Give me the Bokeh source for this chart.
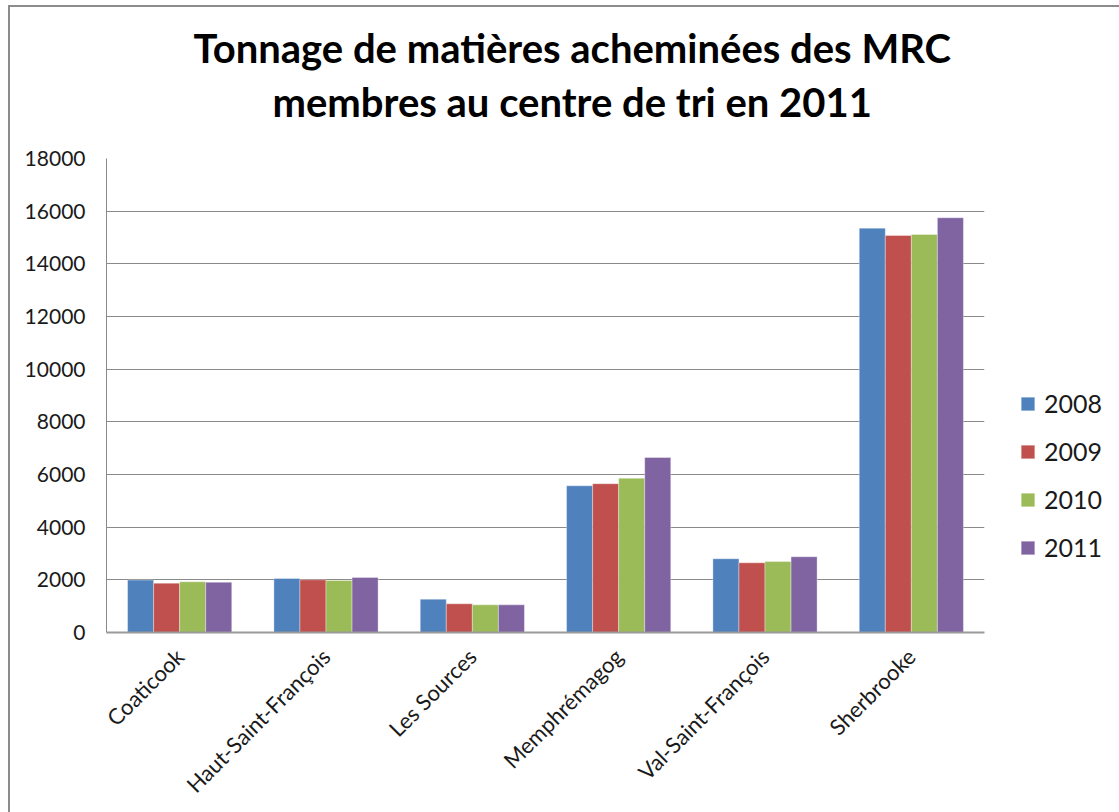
import math
from bokeh.plotting import figure
from bokeh.models import ColumnDataSource, Legend, LegendItem, Title, FactorRange
from bokeh.transform import dodge
from bokeh.embed import file_html
from bokeh.resources import INLINE

mrc = ["Coaticook", "Haut-Saint-François", "Les Sources", "Memphrémagog",
       "Val-Saint-François", "Sherbrooke"]
years = ["2008", "2009", "2010", "2011"]
v2008 = [1990, 2050, 1265, 5570, 2800, 15355]
v2009 = [1875, 2000, 1090, 5650, 2645, 15075]
v2010 = [1925, 1975, 1050, 5860, 2695, 15115]
v2011 = [1910, 2090, 1050, 6645, 2875, 15750]
colors = ["#4F81BD", "#C0504D", "#9BBB59", "#8064A2"]
y_ticks = [0, 2000, 4000, 6000, 8000, 10000, 12000, 14000, 16000, 18000]
title_lines = ["Tonnage de matières acheminées des MRC",
               "membres au centre de tri en 2011"]

src = ColumnDataSource(dict(mrc=mrc, v2008=v2008, v2009=v2009, v2010=v2010, v2011=v2011))

W, H = 1109, 805
FL, FR, FT, FB = 96, 974, 151, 625
p = figure(x_range=FactorRange(*mrc, range_padding=0), y_range=(0, 18000),
           frame_width=FR - FL, frame_height=FB - FT,
           output_backend="svg", toolbar_location=None,
           min_border_left=FL, min_border_right=W - FR,
           min_border_top=FT, min_border_bottom=H - FB)
p.styles = {"margin-left": "8px", "margin-top": "5px",
            "border-left": "2px solid #8c8c8c", "border-top": "2px solid #8c8c8c"}
p.outline_line_color = None
p.background_fill_color = "white"
p.border_fill_color = "white"

bw = 0.178
offs = [-1.5 * bw, -0.5 * bw, 0.5 * bw, 1.5 * bw]
items = []
for yr, col, off in zip(years, colors, offs):
    r = p.vbar(x=dodge("mrc", off, range=p.x_range), top="v" + yr, width=bw,
               source=src, fill_color=col, line_color="white", line_alpha=0.35, line_width=1)
    items.append(LegendItem(label=yr, renderers=[r]))

p.xgrid.grid_line_color = None
p.ygrid.grid_line_color = "#8a8a8a"
p.ygrid.grid_line_width = 1
p.yaxis.ticker = y_ticks
p.yaxis.axis_line_color = "#8a8a8a"
p.yaxis.major_tick_line_color = None
p.yaxis.minor_tick_line_color = None
p.yaxis.major_label_text_font = "Lato"
p.yaxis.major_label_text_font_size = "21px"
p.yaxis.major_label_text_color = "#1a1a1a"
p.yaxis.major_label_standoff = 15

p.xaxis.axis_line_color = "#9a9a9a"
p.xaxis.axis_line_width = 2
p.xaxis.major_tick_line_color = None
p.xaxis.minor_tick_line_color = None
p.xaxis.major_label_orientation = math.pi / 4
p.xaxis.major_label_text_font = "Lato"
p.xaxis.major_label_text_font_size = "22px"
p.xaxis.major_label_text_color = "#1a1a1a"
p.xaxis.major_label_standoff = 14

legend = Legend(items=items, location=(35, 70), glyph_width=17, glyph_height=17,
                label_text_font="Lato", label_text_font_size="25px",
                label_text_color="#1a1a1a", spacing=18, padding=0, margin=0,
                border_line_color=None, background_fill_alpha=0, label_standoff=8)
p.add_layout(legend, "right")

# title: second line first (closest to frame), then first line above it
for txt, so, off in zip(reversed(title_lines), [66, -58], [166, 87]):
    p.add_layout(Title(text=txt, align="left", offset=off, standoff=so,
                       text_font="Lato", text_font_style="bold", text_font_size="40px",
                       text_color="#000000"), "above")

open("out.html", "w").write(file_html(p, INLINE))
